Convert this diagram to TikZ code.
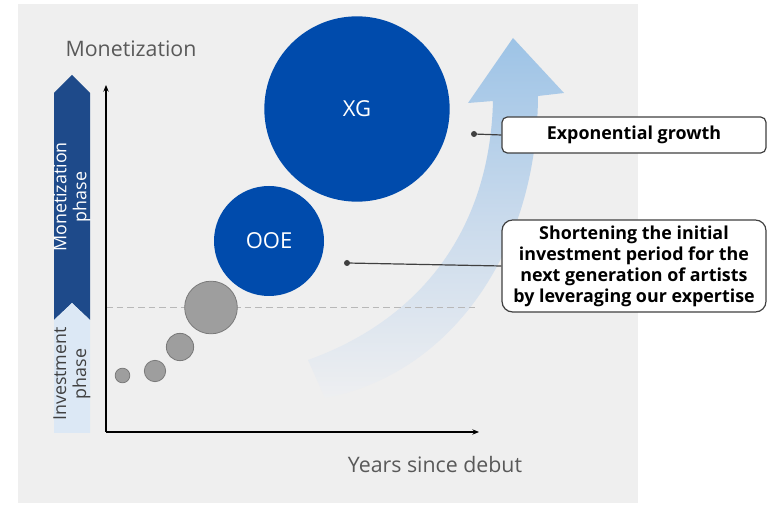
\documentclass[tikz,border=0pt]{standalone}
\usepackage{fontspec}
\setmainfont{Open Sans}
\usetikzlibrary{arrows.meta}
\definecolor{panel}{HTML}{EFEFEF}
\definecolor{barDark}{HTML}{1E4A8A}
\definecolor{barLight}{HTML}{DCE8F5}
\definecolor{bubbleBlue}{HTML}{004BAC}
\definecolor{bubbleGray}{HTML}{9E9E9E}
\definecolor{bubbleEdge}{HTML}{7A7A7A}
\definecolor{axisLabel}{HTML}{595959}
\definecolor{callEdge}{HTML}{404040}
\definecolor{arrowTop}{HTML}{9DC3E6}
\definecolor{arrowMid}{HTML}{C9DAEC}
\definecolor{arrowFade}{HTML}{EEEFF1}
\tikzset{
  axisline/.style={line width=0.9pt, -{Stealth[length=5pt,width=4pt]}},
  graybubble/.style={circle, draw=bubbleEdge, fill=bubbleGray, line width=0.6pt, inner sep=0pt},
  bluebubble/.style={circle, fill=bubbleBlue, text=white, inner sep=0pt, font=\fontsize{16.5pt}{19pt}\selectfont},
  axistext/.style={text=axisLabel, font=\fontsize{16pt}{19pt}\selectfont},
  phasetext/.style={rotate=90, align=center, font=\fontsize{13.4pt}{15pt}\selectfont},
  callout/.style={draw=callEdge, line width=0.9pt, fill=white, align=center,
    minimum width=198pt, inner sep=0pt, font=\bfseries\fontsize{13.4pt}{15.8pt}\selectfont},
  leader/.style={draw=callEdge, line width=0.9pt},
  dot/.style={fill=callEdge},
}
\begin{document}
\begin{tikzpicture}[x=0.75pt,y=-0.75pt]
\useasboundingbox (0,0) rectangle (771,505);
% background panel
\fill[panel] (18,4) rectangle (638,503);

% growth arrow
\shade[top color=arrowTop, bottom color=arrowFade, middle color=arrowMid]
  (308,360) .. controls (425,318) and (490,225) .. (493,101)
  -- (468,103) -- (513,38) -- (564,93) -- (538,96)
  .. controls (537,255) and (448,375) .. (325,398) -- cycle;

% phase bar
\fill[barDark] (54,93) -- (72,75) -- (90,93) -- (90,320) -- (72,303) -- (54,320) -- cycle;
\fill[barLight] (54,320) -- (72,303) -- (90,320) -- (90,433) -- (54,433) -- cycle;
\node[phasetext, text=white] (mon) at (72,197) {Monetization\\phase};
\node[phasetext, text=callEdge] (inv) at (72,374) {Investment\\phase};

% axes
\coordinate (origin) at (106,432);
\coordinate (ytop) at (106,85);
\coordinate (xend) at (479,432);
\draw[dashed, dash pattern=on 5pt off 3pt, draw=black!28, line width=0.7pt] (106,307) -- (475,307);
\draw[axisline] (origin) -- (ytop);
\draw[axisline] (origin) -- (xend);
\node[axistext] (ylab) at (131,49) {Monetization};
\node[axistext] (xlab) at (435,465) {Years since debut};

% bubbles
\node[graybubble, minimum size=11pt] (b1) at (122.5,375.5) {};
\node[graybubble, minimum size=16pt] (b2) at (155,371) {};
\node[graybubble, minimum size=20.5pt] (b3) at (180,347) {};
\node[graybubble, minimum size=39.5pt] (b4) at (211,307.5) {};
\node[bluebubble, minimum size=82.5pt] (ooe) at (269,241) {OOE};
\node[bluebubble, minimum size=139pt] (xg) at (357,109) {XG};

% callouts
\node[callout, minimum height=27pt, rounded corners=4pt] (c1) at (634,135) {Exponential growth};
\node[callout, minimum height=69pt, rounded corners=8pt] (c2) at (634,266)
  {Shortening the initial\\investment period for the\\next generation of artists\\by leveraging our expertise};
\coordinate (d1) at (474,134);
\coordinate (d2) at (347,263);
\draw[leader] (d1) -- (c1.west);
\draw[leader] (d2) -- (c2.west);
\fill[dot] (d1) circle (3);
\fill[dot] (d2) circle (3);
\end{tikzpicture}
\end{document}
